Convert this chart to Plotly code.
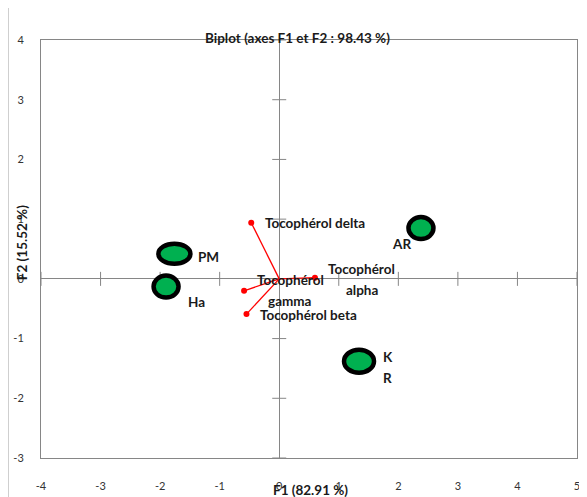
import plotly.graph_objects as go

# ---- data ----
obs_names = ["PM", "Ha", "AR", "K\nR"]
obs_f1 = [-1.76, -1.90, 2.38, 1.34]
obs_f2 = [0.42, -0.13, 0.85, -1.38]

var_names = ["Tocophérol delta", "Tocophérol\ngamma", "Tocophérol beta", "Tocophérol\nalpha"]
var_f1 = [-0.47, -0.59, -0.55, 0.60]
var_f2 = [0.94, -0.20, -0.59, 0.02]

x_ticks = [-4, -3, -2, -1, 0, 1, 2, 3, 4, 5]
y_ticks = [-3, -2, -1, 0, 1, 2, 3, 4]

title_text = "Biplot (axes F1 et F2 : 98.43 %)"
x_title = "F1 (82.91 %)"
y_title = "F2 (15.52 %)"

# ---- style ----
FONT = "Lato, Open Sans, sans-serif"
GRAY = "#868686"
TXT = "#1a1a1a"
FS = 13.5
obs_label_style = {  # (xshift px, yshift px, xanchor)
    "PM": (22, -3, "left"),
    "Ha": (20, -15, "left"),
    "AR": (-8, -16, "right"),
    "K\nR": (22, -6, "left"),
}
obs_marker_px = {  # half width, half height of the ellipse marker, in pixels
    "PM": (16, 10),
    "Ha": (12.5, 11),
    "AR": (12.5, 11),
    "K\nR": (15, 11.5),
}
var_label_style = {
    "Tocophérol delta": (12, 0, "left"),
    "Tocophérol\ngamma": (46, 0, "center"),
    "Tocophérol beta": (12, -1, "left"),
    "Tocophérol\nalpha": (47, -2, "center"),
}
LINE_GAP = 21

fig = go.Figure()

# tick marks on the zero axes
fig.add_trace(go.Scatter(x=[t for t in x_ticks if t != 0], y=[0] * (len(x_ticks) - 1), mode="markers",
                         marker=dict(symbol="line-ns-open", size=10, color=GRAY, line=dict(color=GRAY, width=1)),
                         hoverinfo="skip", showlegend=False, cliponaxis=False))
fig.add_trace(go.Scatter(x=[0] * (len(y_ticks) - 1), y=[t for t in y_ticks if t != 0], mode="markers",
                         marker=dict(symbol="line-ew-open", size=10, color=GRAY, line=dict(color=GRAY, width=1)),
                         hoverinfo="skip", showlegend=False, cliponaxis=False))

# variable vectors
for n, vx, vy in zip(var_names, var_f1, var_f2):
    fig.add_trace(go.Scatter(x=[0, vx], y=[0, vy], mode="lines",
                             line=dict(color="#ff0000", width=1.3), showlegend=False, hoverinfo="skip"))
fig.add_trace(go.Scatter(x=var_f1, y=var_f2, mode="markers",
                         marker=dict(color="#ff0000", size=6), showlegend=False))

annotations = []

def add_label(text, x, y, style):
    xs, ys, xa = style
    lines = text.split("\n")
    for i, line in enumerate(lines):
        off = (len(lines) - 1) / 2 * LINE_GAP - i * LINE_GAP
        annotations.append(dict(x=x, y=y, xref="x", yref="y", text=line, showarrow=False,
                                xanchor=xa, yanchor="middle", xshift=xs, yshift=ys + off,
                                font=dict(family=FONT, size=FS, color=TXT, weight="bold")))

for n, vx, vy in zip(var_names, var_f1, var_f2):
    add_label(n, vx, vy, var_label_style[n])

# observations as ellipses
shapes = []
for n, ox, oy in zip(obs_names, obs_f1, obs_f2):
    hw, hh = obs_marker_px[n]
    shapes.append(dict(type="circle", xref="x", yref="y", xsizemode="pixel", ysizemode="pixel",
                       xanchor=ox, yanchor=oy, x0=-hw, x1=hw, y0=-hh, y1=hh,
                       fillcolor="#00b050", line=dict(color="#000000", width=4.5), layer="above"))
    add_label(n, ox, oy, obs_label_style[n])

# left border line of chart area
shapes.append(dict(type="line", xref="paper", yref="paper", x0=-0.062, x1=-0.062, y0=-0.1, y1=1.1,
                   line=dict(color="#c0c0c0", width=2)))

annotations.append(dict(text=title_text, xref="paper", yref="paper", x=0.479, y=1.0, yshift=2,
                        showarrow=False, xanchor="center", yanchor="middle",
                        font=dict(family=FONT, size=FS, color=TXT, weight="bold")))
annotations.append(dict(text=x_title, xref="paper", yref="paper", x=0.502, y=0, yshift=-32,
                        showarrow=False, xanchor="center", yanchor="middle",
                        font=dict(family=FONT, size=FS, color=TXT, weight="bold")))
annotations.append(dict(text=y_title, xref="paper", yref="paper", x=0, xshift=-19, y=0.514, textangle=-90,
                        showarrow=False, xanchor="center", yanchor="middle",
                        font=dict(family=FONT, size=FS, color=TXT, weight="bold")))

# page body has an 8px margin, so the figure is sized to fit the window
fig.update_layout(
    width=579, height=489, autosize=False,
    margin=dict(l=33, r=10, t=32, b=39),
    paper_bgcolor="white", plot_bgcolor="white",
    shapes=shapes, annotations=annotations, showlegend=False,
)
fig.update_xaxes(range=[-4, 5], tickvals=x_ticks, ticktext=[str(t) for t in x_ticks], ticks="",
                 showgrid=False, zeroline=True, zerolinecolor=GRAY, zerolinewidth=1,
                 showline=True, linecolor=GRAY, linewidth=1, mirror=True, automargin=False,
                 ticklabelstandoff=18, tickfont=dict(family=FONT, size=11, color="#333333"))
fig.update_yaxes(range=[-3, 4], tickvals=y_ticks, ticktext=[str(t) for t in y_ticks], ticks="",
                 showgrid=False, zeroline=True, zerolinecolor=GRAY, zerolinewidth=1,
                 showline=True, linecolor=GRAY, linewidth=1, mirror=True, automargin=False,
                 ticklabelstandoff=14, tickfont=dict(family=FONT, size=11, color="#333333"))

fig.write_html("out.html")
